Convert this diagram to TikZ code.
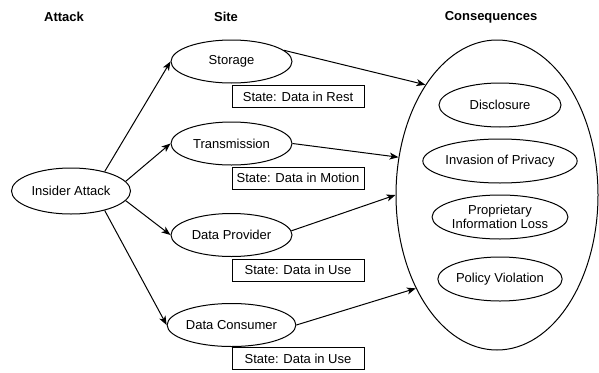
\documentclass[tikz,border=0pt]{standalone}
\usepackage{fontspec}
\setmainfont{Liberation Sans}
\usetikzlibrary{shapes.geometric,arrows.meta}

\begin{document}
\begin{tikzpicture}[x=1pt,y=-1pt,
  every node/.style={font=\fontsize{13}{14.5}\selectfont},
  header/.style={font=\fontsize{13}{15}\selectfont\bfseries},
  sitenode/.style={ellipse,draw,line width=1pt,inner sep=0pt,minimum width=121pt,minimum height=43pt},
  effect/.style={ellipse,draw,line width=1pt,inner sep=0pt,minimum width=122pt,minimum height=44pt,align=center},
  statebox/.style={rectangle,draw,line width=1pt,inner sep=0pt,minimum width=132pt,minimum height=22pt},
  link/.style={line width=1pt,-{Stealth[length=9pt,width=7pt,inset=2.5pt]}}]

\useasboundingbox (0,0) rectangle (599,372);

% column headers
\node[header] (hAttack) at (64,17) {Attack};
\node[header] (hSite) at (226,17) {Site};
\node[header] (hCons) at (491,17) {Consequences};

% attack
\node[sitenode,minimum width=119pt,minimum height=46pt] (insider) at (71,191) {Insider Attack};

% sites
\node[sitenode] (storage) at (231.5,61.5) {Storage};
\node[sitenode] (trans) at (231.5,143.5) {Transmission};
\node[sitenode] (provider) at (231.5,235) {Data Provider};
\node[sitenode] (consumer) at (231.5,325) {Data Consumer};

% data states
\node[statebox] (s1) at (298,96.5) {State: Data in Rest};
\node[statebox] (s2) at (298,178) {State: Data in Motion};
\node[statebox] (s3) at (298,270) {State: Data in Use};
\node[statebox] (s4) at (298,358.5) {State: Data in Use};

% consequences
\node[ellipse,draw,line width=1pt,inner sep=0pt,minimum width=202pt,minimum height=310pt] (big) at (497,195) {};
\node[effect] (c1) at (500,105) {Disclosure};
\node[effect] (c2) at (500,161) {Invasion of Privacy};
\node[effect] (c3) at (500,217) {Proprietary\\Information Loss};
\node[effect] (c4) at (500,279) {Policy Violation};

% attack to sites
\draw[link] (insider.30) -- (storage.west);
\draw[link] (insider.10) -- (trans.west);
\draw[link] (insider.-10) -- (provider.west);
\draw[link] (insider.-30) -- (consumer.west);

% sites to consequences
\draw[link] (storage.12) -- (big.123);
\draw[link] (trans.east) -- (big.159);
\draw[link] (provider.4) -- (big.180);
\draw[link] (consumer.east) -- (big.229);
\end{tikzpicture}
\end{document}
